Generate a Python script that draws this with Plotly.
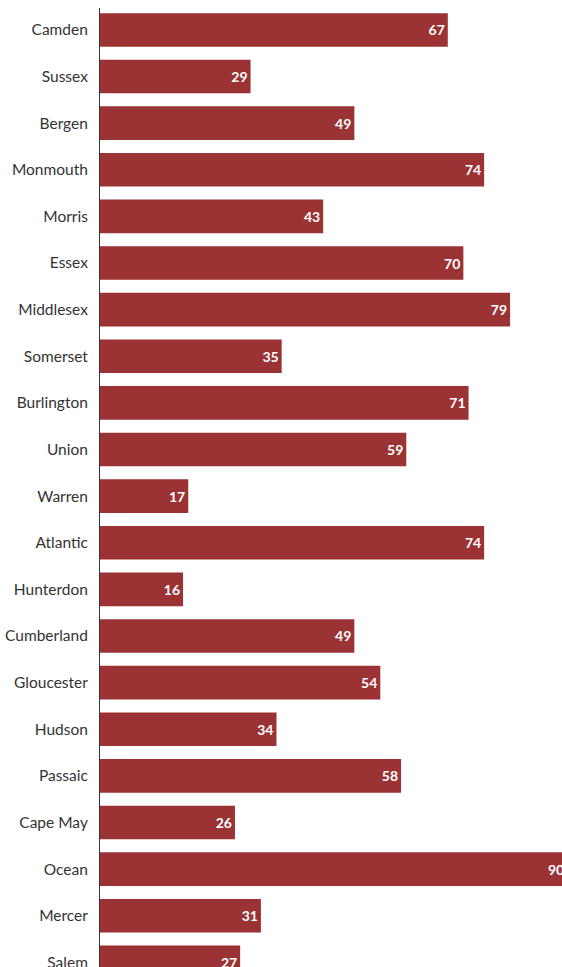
import plotly.graph_objects as go

counties = ["Camden", "Sussex", "Bergen", "Monmouth", "Morris", "Essex", "Middlesex",
            "Somerset", "Burlington", "Union", "Warren", "Atlantic", "Hunterdon",
            "Cumberland", "Gloucester", "Hudson", "Passaic", "Cape May", "Ocean",
            "Mercer", "Salem"]
values = [67, 29, 49, 74, 43, 70, 79, 35, 71, 59, 17, 74, 16, 49, 54, 34, 58, 26, 90, 31, 27]

BAR = "#9b3335"

fig = go.Figure(go.Bar(
    x=values,
    y=counties,
    orientation="h",
    marker=dict(color=BAR, line=dict(width=0)),
    text=[str(v) for v in values],
    textposition="inside",
    insidetextanchor="end",
    textangle=0,
    textfont=dict(family="Lato", size=14, color="white", weight="bold"),
    cliponaxis=True,
    hoverinfo="skip",
))

fig.update_layout(
    width=562, height=967,
    margin=dict(l=100, r=0, t=8, b=0),
    paper_bgcolor="white", plot_bgcolor="white",
    bargap=0.28,
    showlegend=False,
    font=dict(family="Lato", size=15.5, color="#333333"),
)
fig.update_xaxes(range=[0, 89.0], showgrid=False, zeroline=False, showline=False,
                 showticklabels=False, ticks="", fixedrange=True, automargin=False)
fig.update_yaxes(range=[20.1, -0.47], showgrid=False, zeroline=False, showline=True,
                 linecolor="#333333", linewidth=1, ticks="", ticklabelstandoff=8,
                 tickfont=dict(family="Lato", size=15.5, color="#333333"),
                 fixedrange=True, automargin=False)

fig.write_html("out.html", config={"displayModeBar": False},
               post_script="document.body.style.margin='0';document.body.style.overflow='hidden';")
